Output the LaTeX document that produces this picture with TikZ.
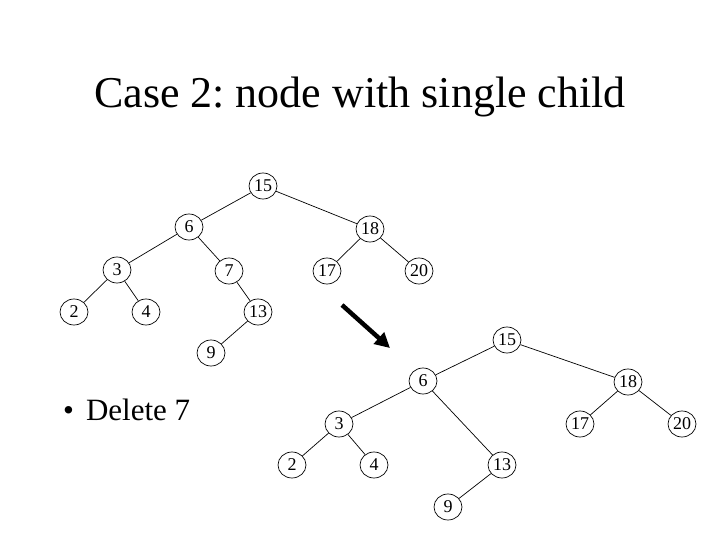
\documentclass[tikz,border=0pt]{standalone}
\usepackage{fontspec}
\setmainfont{Liberation Serif}
\usetikzlibrary{shapes.geometric,arrows.meta}
\begin{document}
\frenchspacing
\begin{tikzpicture}[x=1pt,y=-1pt,
  tn/.style={ellipse,draw,line width=0.7pt,minimum width=28pt,minimum height=26pt,inner sep=0pt,font=\fontsize{18}{18}\selectfont},
  ed/.style={line width=0.7pt}]
\useasboundingbox (0,0) rectangle (720,540);
\node[anchor=base,font=\fontsize{44}{44}\selectfont] (title) at (360,108) {Case 2: node with single child};
\node[anchor=base west,font=\fontsize{31}{31}\selectfont,inner sep=0pt] (bullet) at (63,420) {\textbullet\hspace{12pt}Delete 7};
% top tree
\node[tn] (a15) at (263,186) {15};
\node[tn] (a6) at (189,227) {6};
\node[tn] (a18) at (370,229) {18};
\node[tn] (a3) at (117,270) {3};
\node[tn] (a7) at (229,271) {7};
\node[tn] (a17) at (327,271) {17};
\node[tn] (a20) at (419,271) {20};
\node[tn] (a2) at (74,312) {2};
\node[tn] (a4) at (146,312) {4};
\node[tn] (a13) at (258,312) {13};
\node[tn] (a9) at (211,353) {9};
\draw[ed] (a15)--(a6) (a15)--(a18) (a6)--(a3) (a6)--(a7) (a18)--(a17) (a18)--(a20)
  (a3)--(a2) (a3)--(a4) (a7)--(a13) (a13)--(a9);
% bottom tree
\node[tn] (b15) at (507,340) {15};
\node[tn] (b6) at (423,381) {6};
\node[tn] (b18) at (628,382) {18};
\node[tn] (b3) at (339,424) {3};
\node[tn] (b17) at (580,424) {17};
\node[tn] (b20) at (682,424) {20};
\node[tn] (b2) at (292,465) {2};
\node[tn] (b4) at (374,465) {4};
\node[tn] (b13) at (502,465) {13};
\node[tn] (b9) at (448,507) {9};
\draw[ed] (b15)--(b6) (b15)--(b18) (b6)--(b3) (b6)--(b13) (b18)--(b17) (b18)--(b20)
  (b3)--(b2) (b3)--(b4) (b13)--(b9);
% arrow
\coordinate (as) at (342,305);
\coordinate (ae) at (390,348);
\draw[line width=4.5pt,-{Triangle[length=15pt,width=15pt]}] (as)--(ae);
\end{tikzpicture}
\end{document}
